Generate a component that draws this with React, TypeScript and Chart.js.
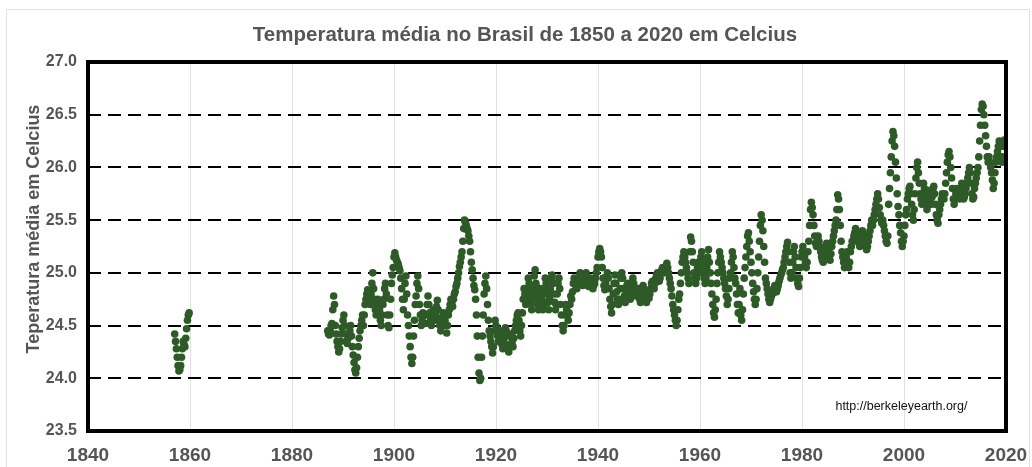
import React, { useEffect, useRef } from "react";
import { Chart, registerables } from "chart.js";

Chart.register(...registerables);

// ---------- DATA ----------
// Brazil mean temperature (12-month moving average), six readings per year, in °C.
const TITLE = "Temperatura média no Brasil de 1850 a 2020 em Celcius";
const Y_TITLE = "Teperatura média em Celcius";
const SOURCE_TEXT = "http://berkeleyearth.org/";
const SOURCE_AT = [1999.5, 23.73]; // year, temperature

const X_MIN = 1840;
const X_MAX = 2020;
const X_STEP = 20;
const Y_MIN = 23.5;
const Y_MAX = 27.0;
const Y_STEP = 0.5;

// 1857-1859
const t1850s: number[][] = [
  [24.42, 24.35, 24.28, 24.2, 24.12, 24.07],
  [24.08, 24.12, 24.2, 24.28, 24.35, 24.32],
  [24.3, 24.38, 24.47, 24.55, 24.6, 24.62],
];
// 1887-1889
const t1880s: number[][] = [
  [24.45, 24.42, 24.41, 24.45, 24.5, 24.52],
  [24.65, 24.78, 24.7, 24.5, 24.42, 24.35],
  [24.3, 24.25, 24.28, 24.35, 24.42, 24.48],
];
// 1890-1899
const t1890s: number[][] = [
  [24.55, 24.6, 24.5, 24.42, 24.35, 24.33],
  [24.38, 24.4, 24.45, 24.5, 24.4, 24.3],
  [24.22, 24.15, 24.08, 24.05, 24.1, 24.2],
  [24.3, 24.38, 24.45, 24.5, 24.55, 24.6],
  [24.5, 24.6, 24.7, 24.75, 24.8, 24.84],
  [24.78, 24.72, 24.7, 24.8, 24.9, 25.0],
  [24.85, 24.75, 24.65, 24.6, 24.7, 24.75],
  [24.7, 24.65, 24.55, 24.5, 24.6, 24.7],
  [24.75, 24.85, 24.9, 24.8, 24.6, 24.5],
  [24.48, 24.6, 24.75, 24.9, 24.98, 25.05],
];
// 1900-1909
const t1900s: number[][] = [
  [25.15, 25.19, 25.15, 25.12, 25.1, 25.08],
  [25.05, 25.02, 24.95, 24.85, 24.75, 24.65],
  [24.75, 24.9, 24.97, 24.8, 24.6, 24.5],
  [24.4, 24.3, 24.2, 24.14, 24.2, 24.4],
  [24.55, 24.7, 24.78, 24.9, 24.97, 24.85],
  [24.7, 24.6, 24.5, 24.55, 24.62, 24.6],
  [24.6, 24.52, 24.6, 24.7, 24.78, 24.7],
  [24.62, 24.55, 24.5, 24.58, 24.65, 24.6],
  [24.55, 24.6, 24.68, 24.74, 24.65, 24.55],
  [24.5, 24.45, 24.5, 24.58, 24.62, 24.6],
];
// 1910-1919
const t1910s: number[][] = [
  [24.55, 24.5, 24.43, 24.5, 24.6, 24.65],
  [24.7, 24.75, 24.72, 24.68, 24.75, 24.8],
  [24.82, 24.87, 24.9, 24.95, 25.0, 25.06],
  [25.1, 25.15, 25.2, 25.3, 25.42, 25.5],
  [25.48, 25.45, 25.42, 25.4, 25.35, 25.3],
  [25.2, 25.1, 25.03, 24.95, 24.88, 24.84],
  [24.75, 24.6, 24.4, 24.2, 24.05, 23.98],
  [24.0, 24.2, 24.4, 24.6, 24.8, 24.9],
  [24.97, 24.85, 24.7, 24.55, 24.45, 24.4],
  [24.35, 24.3, 24.24, 24.3, 24.45, 24.55],
];
// 1920-1929
const t1920s: number[][] = [
  [24.5, 24.45, 24.4, 24.35, 24.4, 24.45],
  [24.38, 24.32, 24.28, 24.35, 24.42, 24.48],
  [24.45, 24.4, 24.3, 24.25, 24.32, 24.4],
  [24.42, 24.35, 24.3, 24.38, 24.45, 24.5],
  [24.55, 24.6, 24.62, 24.55, 24.45, 24.4],
  [24.5, 24.62, 24.75, 24.85, 24.8, 24.7],
  [24.75, 24.85, 24.95, 24.9, 24.8, 24.7],
  [24.65, 24.75, 24.85, 24.97, 25.03, 24.9],
  [24.8, 24.7, 24.65, 24.75, 24.85, 24.8],
  [24.75, 24.65, 24.7, 24.85, 24.95, 24.9],
];
// 1930-1939
const t1930s: number[][] = [
  [24.8, 24.72, 24.65, 24.75, 24.85, 24.95],
  [24.98, 24.9, 24.8, 24.72, 24.65, 24.7],
  [24.8, 24.9, 24.95, 24.85, 24.7, 24.6],
  [24.5, 24.45, 24.5, 24.6, 24.7, 24.65],
  [24.6, 24.55, 24.62, 24.7, 24.78, 24.75],
  [24.82, 24.9, 24.95, 24.92, 24.88, 24.85],
  [24.88, 24.92, 24.96, 25.0, 24.95, 24.9],
  [24.88, 24.92, 24.95, 24.98, 25.0, 24.96],
  [24.9, 24.87, 24.9, 24.95, 24.92, 24.88],
  [24.85, 24.88, 24.9, 24.95, 25.0, 25.05],
];
// 1940-1949
const t1940s: number[][] = [
  [25.15, 25.2, 25.23, 25.2, 25.15, 25.05],
  [24.95, 24.88, 24.84, 24.9, 24.95, 25.0],
  [24.95, 24.85, 24.75, 24.68, 24.62, 24.7],
  [24.8, 24.9, 24.98, 24.9, 24.82, 24.75],
  [24.7, 24.75, 24.85, 24.95, 25.0, 24.95],
  [24.85, 24.78, 24.72, 24.8, 24.88, 24.9],
  [24.85, 24.8, 24.75, 24.82, 24.9, 24.95],
  [24.9, 24.85, 24.8, 24.78, 24.82, 24.85],
  [24.8, 24.75, 24.72, 24.78, 24.85, 24.88],
  [24.85, 24.8, 24.75, 24.72, 24.78, 24.8],
];
// 1950-1959
const t1950s: number[][] = [
  [24.76, 24.8, 24.85, 24.9, 24.92, 24.88],
  [24.85, 24.9, 24.95, 24.98, 25.0, 24.95],
  [24.92, 24.95, 25.0, 25.03, 25.05, 25.02],
  [25.0, 25.03, 25.06, 25.09, 25.05, 25.0],
  [24.95, 24.9, 24.85, 24.78, 24.7, 24.65],
  [24.6, 24.55, 24.5, 24.55, 24.65, 24.75],
  [24.8, 24.9, 25.0, 25.1, 25.15, 25.2],
  [25.15, 25.1, 25.05, 25.0, 24.95, 24.9],
  [25.2, 25.34, 25.3, 25.2, 25.1, 25.0],
  [24.95, 24.9, 24.95, 25.05, 25.1, 25.0],
];
// 1960-1969
const t1960s: number[][] = [
  [25.05, 25.15, 25.2, 25.1, 25.0, 24.95],
  [24.9, 24.95, 25.05, 25.15, 25.22, 25.1],
  [25.0, 24.9, 24.8, 24.7, 24.62, 24.58],
  [24.65, 24.75, 24.9, 25.0, 25.1, 25.2],
  [25.15, 25.1, 25.05, 25.0, 24.95, 24.9],
  [24.85, 24.78, 24.7, 24.75, 24.85, 24.95],
  [25.0, 25.1, 25.2, 25.15, 25.05, 24.95],
  [24.9, 24.8, 24.7, 24.62, 24.7, 24.85],
  [24.6, 24.55, 24.65, 24.8, 24.95, 25.05],
  [25.15, 25.25, 25.35, 25.38, 25.3, 25.2],
];
// 1970-1979
const t1970s: number[][] = [
  [25.1, 25.0, 24.9, 24.82, 24.75, 24.7],
  [24.75, 24.85, 25.0, 25.15, 25.3, 25.45],
  [25.55, 25.5, 25.4, 25.25, 25.1, 24.95],
  [24.9, 24.85, 24.8, 24.75, 24.72, 24.75],
  [24.78, 24.8, 24.82, 24.85, 24.88, 24.85],
  [24.82, 24.85, 24.88, 24.92, 24.95, 24.98],
  [25.0, 25.03, 25.05, 25.1, 25.15, 25.2],
  [25.25, 25.29, 25.2, 25.1, 25.0, 24.95],
  [25.0, 25.1, 25.2, 25.25, 25.15, 25.05],
  [24.95, 24.9, 24.87, 24.95, 25.05, 25.15],
];
// 1980-1989
const t1980s: number[][] = [
  [25.2, 25.25, 25.2, 25.15, 25.1, 25.05],
  [25.1, 25.2, 25.3, 25.45, 25.6, 25.67],
  [25.62, 25.55, 25.45, 25.35, 25.28, 25.25],
  [25.3, 25.35, 25.3, 25.25, 25.2, 25.15],
  [25.12, 25.1, 25.15, 25.2, 25.25, 25.28],
  [25.25, 25.2, 25.15, 25.12, 25.18, 25.25],
  [25.3, 25.35, 25.4, 25.45, 25.5, 25.6],
  [25.74, 25.7, 25.6, 25.45, 25.3, 25.2],
  [25.15, 25.1, 25.05, 25.1, 25.15, 25.2],
  [25.1, 25.05, 25.1, 25.2, 25.25, 25.3],
];
// 1990-1999
const t1990s: number[][] = [
  [25.3, 25.35, 25.38, 25.42, 25.4, 25.35],
  [25.32, 25.28, 25.25, 25.3, 25.35, 25.4],
  [25.38, 25.35, 25.3, 25.25, 25.22, 25.25],
  [25.3, 25.35, 25.4, 25.45, 25.5, 25.45],
  [25.5, 25.55, 25.6, 25.65, 25.7, 25.75],
  [25.7, 25.62, 25.55, 25.5, 25.47, 25.5],
  [25.45, 25.4, 25.35, 25.3, 25.28, 25.35],
  [25.65, 25.8, 25.95, 26.1, 26.25, 26.34],
  [26.3, 26.2, 26.05, 25.9, 25.75, 25.63],
  [25.55, 25.45, 25.38, 25.3, 25.25, 25.3],
];
// 2000-2009
const t2000s: number[][] = [
  [25.35, 25.45, 25.55, 25.6, 25.7, 25.75],
  [25.8, 25.82, 25.75, 25.65, 25.55, 25.5],
  [25.6, 25.75, 25.9, 26.0, 26.05, 25.95],
  [25.85, 25.75, 25.7, 25.65, 25.75, 25.85],
  [25.8, 25.7, 25.65, 25.6, 25.7, 25.78],
  [25.75, 25.7, 25.65, 25.72, 25.8, 25.82],
  [25.75, 25.65, 25.55, 25.5, 25.47, 25.55],
  [25.6, 25.65, 25.7, 25.75, 25.72, 25.7],
  [25.75, 25.85, 25.95, 26.05, 26.12, 26.15],
  [26.1, 26.0, 25.9, 25.8, 25.7, 25.65],
];
// 2010-2019
const t2010s: number[][] = [
  [25.7, 25.75, 25.8, 25.78, 25.72, 25.7],
  [25.72, 25.8, 25.85, 25.78, 25.7, 25.72],
  [25.75, 25.8, 25.85, 25.9, 25.95, 26.0],
  [25.95, 25.85, 25.75, 25.7, 25.72, 25.8],
  [25.85, 25.9, 25.95, 26.0, 26.1, 26.25],
  [26.4, 26.55, 26.6, 26.58, 26.5, 26.4],
  [26.3, 26.2, 26.1, 26.05, 26.1, 26.05],
  [26.0, 25.95, 25.88, 25.8, 25.85, 25.95],
  [26.05, 26.1, 26.15, 26.2, 26.25, 26.2],
  [26.1, 26.05, 26.1, 26.2, 26.26, 26.25],
];

// first year of each block
const blockStarts = [1857, 1887, 1890, 1900, 1910, 1920, 1930, 1940, 1950, 1960, 1970, 1980, 1990, 2000, 2010];
const blocks = [t1850s, t1880s, t1890s, t1900s, t1910s, t1920s, t1930s, t1940s, t1950s, t1960s, t1970s, t1980s, t1990s, t2000s, t2010s];

const POINT_COLOR = "#2e5a27";
const TEXT_GREY = "#555555";
const FONT = '"Liberation Sans", Arial, Helvetica, sans-serif';

function buildPoints() {
  const pts: { x: number; y: number }[] = [];
  blocks.forEach((block, b) => {
    block.forEach((row, r) => {
      const year = blockStarts[b] + r;
      row.forEach((v, i) => pts.push({ x: year + i / row.length, y: v }));
    });
  });
  return pts;
}

const framePlugin = {
  id: "frameAndNotes",
  afterDatasetsDraw(chart: any) {
    const { ctx, chartArea: a, scales } = chart;
    ctx.save();
    ctx.strokeStyle = "#000";
    ctx.lineWidth = 4;
    ctx.strokeRect(a.left, a.top, a.right - a.left, a.bottom - a.top);
    ctx.font = `12.5px ${FONT}`;
    ctx.fillStyle = "#111";
    ctx.textAlign = "center";
    ctx.textBaseline = "middle";
    ctx.fillText(SOURCE_TEXT, scales.x.getPixelForValue(SOURCE_AT[0]), scales.y.getPixelForValue(SOURCE_AT[1]));
    // chart title
    ctx.font = `bold 20.5px ${FONT}`;
    ctx.fillStyle = TEXT_GREY;
    ctx.fillText(TITLE, 525, 35);
    // y-axis title
    ctx.translate(34, 229);
    ctx.rotate(-Math.PI / 2);
    ctx.font = `bold 18px ${FONT}`;
    ctx.fillText(Y_TITLE, 0, 0);
    ctx.restore();
  },
};

export default function App() {
  const ref = useRef<HTMLCanvasElement | null>(null);
  useEffect(() => {
    if (!ref.current) return;
    const chart = new Chart(ref.current, {
      type: "scatter",
      data: {
        datasets: [
          {
            data: buildPoints(),
            backgroundColor: POINT_COLOR,
            borderColor: POINT_COLOR,
            borderWidth: 0,
            pointRadius: 3.8,
            showLine: false,
          },
        ],
      },
      options: {
        animation: false,
        responsive: false,
        events: [],
        layout: { padding: { left: 0, right: 26, top: 62, bottom: 0 } },
        plugins: { legend: { display: false }, title: { display: false }, tooltip: { enabled: false } },
        scales: {
          x: {
            type: "linear",
            min: X_MIN,
            max: X_MAX,
            ticks: {
              stepSize: X_STEP,
              callback: (v: any) => String(v),
              font: { family: FONT, size: 19, weight: "bold" },
              color: TEXT_GREY,
              padding: 13,
              maxRotation: 0,
            },
            grid: { color: "rgba(0,0,0,0.12)", lineWidth: 1, drawTicks: false },
            border: { display: false },
            afterFit: (s: any) => {
              s.height = 36;
              s.paddingLeft = 0;
              s.paddingRight = 0;
            },
          },
          y: {
            min: Y_MIN,
            max: Y_MAX,
            ticks: {
              stepSize: Y_STEP,
              callback: (v: any) => Number(v).toFixed(1),
              font: { family: FONT, size: 16, weight: "bold" },
              color: TEXT_GREY,
              padding: 11,
            },
            grid: { color: "#000", lineWidth: 2, drawTicks: false },
            border: { display: false, dash: [13, 7] },
            afterFit: (s: any) => {
              s.width = 88;
            },
          },
        },
      },
      plugins: [framePlugin],
    });
    return () => chart.destroy();
  }, []);

  return (
    <div style={{ position: "fixed", left: 0, top: 0, width: 1032, height: 467, background: "#fff", overflow: "hidden" }}>
      <div
        style={{
          position: "absolute",
          left: 6,
          top: 9,
          width: 1024,
          height: 470,
          border: "1px solid #e2e2e2",
          boxSizing: "border-box",
        }}
      />
      <canvas ref={ref} width={1032} height={467} style={{ position: "absolute", left: 0, top: 0, width: 1032, height: 467 }} />
    </div>
  );
}
